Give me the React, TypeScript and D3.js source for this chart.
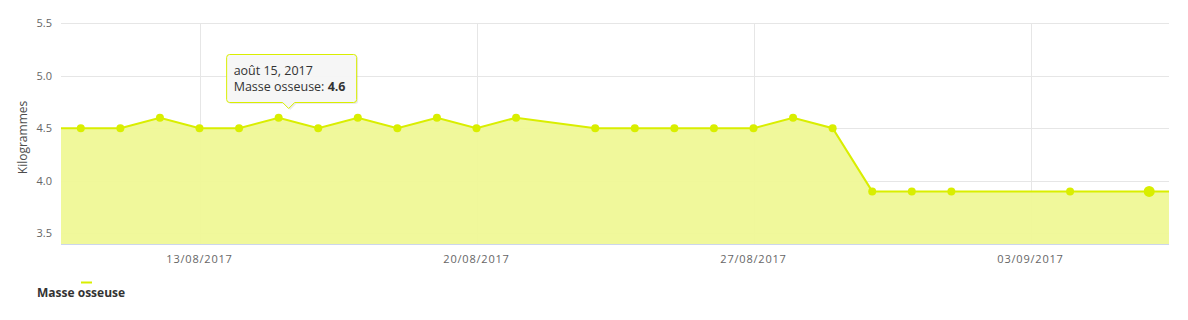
import React from "react";
import * as d3 from "d3";

const dates: string[] = [
  "2017-08-10", "2017-08-11", "2017-08-12", "2017-08-13", "2017-08-14", "2017-08-15",
  "2017-08-16", "2017-08-17", "2017-08-18", "2017-08-19", "2017-08-20", "2017-08-21",
  "2017-08-23", "2017-08-24", "2017-08-25", "2017-08-26", "2017-08-27", "2017-08-28",
  "2017-08-29", "2017-08-30", "2017-08-31", "2017-09-01", "2017-09-04", "2017-09-06",
];
const values: number[] = [
  4.5, 4.5, 4.6, 4.5, 4.5, 4.6,
  4.5, 4.6, 4.5, 4.6, 4.5, 4.6,
  4.5, 4.5, 4.5, 4.5, 4.5, 4.6,
  4.5, 3.9, 3.9, 3.9, 3.9, 3.9,
];
const yTicks: number[] = [3.5, 4.0, 4.5, 5.0, 5.5];
const xTickDates: string[] = ["2017-08-13", "2017-08-20", "2017-08-27", "2017-09-03"];
const seriesName = "Masse osseuse";
const yTitle = "Kilogrammes";
const tooltipIndex = 5;
const tooltipTitle = "août 15, 2017";
const hoverIndex = 23;

const W = 1188, H = 320;
const LINE = "#d9ee00";
const FILL = "#eff896";
const FONT = "'Open Sans', 'DejaVu Sans', sans-serif";

export default function App() {
  const parse = d3.utcParse("%Y-%m-%d");
  const fmt = d3.utcFormat("%d/%m/%Y");
  const data = dates.map((d, i) => ({ date: parse(d)!, value: values[i] }));
  const left = 61, right = 1169, top = 23, bottom = 244;
  const x0 = d3.utcHour.offset(data[0].date, -12);
  const x1 = d3.utcHour.offset(data[data.length - 1].date, 12);
  const x = d3.scaleUtc().domain([x0, x1]).range([left, right]);
  const y = d3.scaleLinear().domain([3.4, 5.5]).range([bottom, top]);

  const ext = [
    { date: x0, value: data[0].value },
    ...data,
    { date: x1, value: data[data.length - 1].value },
  ];
  const area = d3.area<any>().x((d) => x(d.date)).y0(bottom).y1((d) => y(d.value));
  const line = d3.line<any>().x((d) => x(d.date)).y((d) => y(d.value));

  const tp = data[tooltipIndex];
  const px = x(tp.date);
  const bx = px - 52, bw = 130, by = 54.5, bh = 48;
  const ax = px + 10;
  const tipPath = `M${bx + 3},${by} H${bx + bw - 3} Q${bx + bw},${by} ${bx + bw},${by + 3} V${by + bh - 3} Q${bx + bw},${by + bh} ${bx + bw - 3},${by + bh} H${ax + 6} L${ax},${by + bh + 6} L${ax - 6},${by + bh} H${bx + 3} Q${bx},${by + bh} ${bx},${by + bh - 3} V${by + 3} Q${bx},${by} ${bx + 3},${by} Z`;

  return (
    <svg width={W} height={H} style={{ position: "absolute", left: 0, top: 0, fontFamily: FONT }}>
      <defs>
        <clipPath id="plot">
          <rect x={left} y={top - 10} width={right - left} height={bottom - top + 10} />
        </clipPath>
      </defs>
      <rect width={W} height={H} fill="#fff" />
      {yTicks.map((t) => (
        <line key={"gy" + t} x1={left} x2={right} y1={Math.round(y(t)) + 0.5} y2={Math.round(y(t)) + 0.5} stroke="#e6e6e6" />
      ))}
      {xTickDates.map((t) => {
        const xx = Math.round(x(parse(t)!)) + 0.5;
        return <line key={"gx" + t} x1={xx} x2={xx} y1={top} y2={bottom} stroke="#e6e6e6" />;
      })}
      <g clipPath="url(#plot)">
        <path d={area(ext)!} fill={FILL} fillOpacity={0.95} />
        <path d={line(ext)!} fill="none" stroke={LINE} strokeWidth={2} />
        {data.map((d, i) => (
          <circle key={i} cx={x(d.date)} cy={y(d.value)} r={i === hoverIndex ? 5.5 : 4} fill={LINE} />
        ))}
      </g>
      <line x1={left} x2={right} y1={bottom + 0.5} y2={bottom + 0.5} stroke="#ccd6eb" />
      {yTicks.map((t) => (
        <text key={"ly" + t} x={52} y={y(t) + 4} textAnchor="end" fontSize={11} fill="#666">
          {d3.format(".1f")(t)}
        </text>
      ))}
      {xTickDates.map((t) => (
        <text key={"lx" + t} x={x(parse(t)!)} y={263} textAnchor="middle" fontSize={11} fill="#666" letterSpacing={0.8}>
          {fmt(parse(t)!)}
        </text>
      ))}
      <text transform={`translate(27,${(top + bottom) / 2 + 4}) rotate(-90)`} textAnchor="middle" fontSize={12} fill="#4d4d4d">
        {yTitle}
      </text>
      {/* legend */}
      <line x1={81} x2={92} y1={282.5} y2={282.5} stroke={LINE} strokeWidth={2} />
      <text x={37} y={297} fontSize={12} fontWeight="bold" fill="#333">{seriesName}</text>
      {/* tooltip */}
      <g>
        <path d={tipPath} fill="#000" fillOpacity={0.08} transform="translate(1.5,1.5)" />
        <path d={tipPath} fill="#f7f7f7" fillOpacity={0.95} stroke={LINE} strokeWidth={1} />
        <text x={bx + 7} y={by + 20} fontSize={12.5} fill="#333">{tooltipTitle}</text>
        <text x={bx + 7} y={by + 36} fontSize={12.5} fill="#333">
          {seriesName}: <tspan fontWeight="bold">{tp.value}</tspan>
        </text>
      </g>
    </svg>
  );
}
